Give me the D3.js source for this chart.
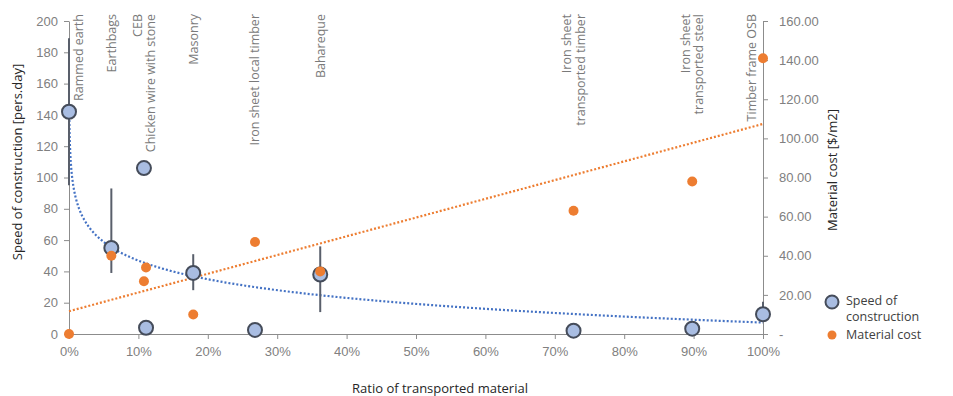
<!DOCTYPE html>
<html>
<head>
<meta charset="utf-8">
<script src="https://cdn.jsdelivr.net/npm/d3@7"></script>
<style>
body{margin:0;background:#fff;}
svg{font-family:"Open Sans",sans-serif;}
</style>
</head>
<body>
<div id="chart"></div>
<script>
var materials = ["Rammed earth","Earthbags","CEB","Chicken wire with stone","Masonry",
    "Iron sheet local timber","Bahareque","Iron sheet transported timber",
    "Iron sheet transported steel","Timber frame OSB"];
var ratio = [0, 0.061, 0.108, 0.111, 0.179, 0.268, 0.362, 0.727, 0.898, 1.0];
var speed = [142, 55, 106, 4, 39, 2.6, 38, 2.1, 3.4, 12.6];
var errPlus = [47, 38, 0, 0, 12, 0, 18, 0, 0, 8];
var errMinus = [47, 16, 0, 0, 11, 0, 24, 0, 0, 3];
var cost = [0, 40, 27, 34, 10, 47, 32, 63, 78, 141];
//data labels (CEB and chicken wire share one label)
var labelLines = [["Rammed earth"],["Earthbags"],["CEB","Chicken wire with stone"],[],["Masonry"],
    ["Iron sheet local timber"],["Bahareque"],["Iron sheet","transported timber"],
    ["Iron sheet","transported steel"],["Timber frame OSB"]];
var leftTicks = [0,20,40,60,80,100,120,140,160,180,200];
var rightTicks = [0,20,40,60,80,100,120,140,160];
var xTicks = [0,0.1,0.2,0.3,0.4,0.5,0.6,0.7,0.8,0.9,1];
//log trendline of speed: y = a + b*ln(x)
var speedTrend = {a: 7.3, b: -17.2, xStart: 0.0004};

var W = 953, H = 396;
var x = d3.scaleLinear().domain([0,1]).range([69,763]);
var yL = d3.scaleLinear().domain([0,200]).range([334,21]);
var yR = d3.scaleLinear().domain([0,160]).range([334,21]);

var blue = "#4472c4", orange = "#ed7d31", tickCol = "#808080", axisCol = "#8c8c8c";

var svg = d3.select("#chart").append("svg").attr("width", W).attr("height", H);

//axes
function styleAxis(g){
    g.select(".domain").attr("stroke", axisCol);
    g.selectAll(".tick line").attr("stroke", axisCol);
    g.selectAll(".tick text").attr("fill", tickCol).attr("font-size", "13px");
}
svg.append("g").attr("transform","translate(69,0)")
    .call(d3.axisLeft(yL).tickValues(leftTicks).tickSize(5).tickSizeOuter(0).tickPadding(6))
    .call(styleAxis);
svg.append("g").attr("transform","translate(763,0)")
    .call(d3.axisRight(yR).tickValues(rightTicks).tickSize(5).tickSizeOuter(0).tickPadding(11)
        .tickFormat(function(v){ return v === 0 ? "-" : v.toFixed(2); }))
    .call(styleAxis);
svg.append("g").attr("transform","translate(0,334)")
    .call(d3.axisBottom(x).tickValues(xTicks).tickSize(5).tickSizeOuter(0).tickPadding(8)
        .tickFormat(d3.format(".0%")))
    .call(styleAxis);

//axis titles
svg.append("text").attr("transform","translate(22,162) rotate(-90)")
    .attr("text-anchor","middle").attr("font-size","13px").attr("fill","#262626")
    .text("Speed of construction [pers.day]");
svg.append("text").attr("transform","translate(832,170) rotate(-90)")
    .attr("text-anchor","middle").attr("dy","0.35em").attr("font-size","13px").attr("fill","#262626")
    .text("Material cost [$/m2]");
svg.append("text").attr("x",440).attr("y",393)
    .attr("text-anchor","middle").attr("font-size","13px").attr("fill","#262626")
    .text("Ratio of transported material");

//trendlines
var n = ratio.length;
var mx = d3.mean(ratio), my = d3.mean(cost);
var sxy = d3.sum(ratio, function(v,i){ return (v-mx)*(cost[i]-my); });
var sxx = d3.sum(ratio, function(v){ return (v-mx)*(v-mx); });
var slope = sxy/sxx, icpt = my - slope*mx;

svg.append("line")
    .attr("x1", x(0)).attr("y1", yR(icpt))
    .attr("x2", x(1)).attr("y2", yR(icpt + slope))
    .attr("stroke", orange).attr("stroke-width", 2.2).attr("stroke-dasharray","2,2");

var trendPts = d3.range(0, 201).map(function(i){
    var t = speedTrend.xStart * Math.pow(1/speedTrend.xStart, i/200);
    return [t, speedTrend.a + speedTrend.b*Math.log(t)];
});
svg.append("path").datum(trendPts)
    .attr("d", d3.line().x(function(d){return x(d[0]);}).y(function(d){return yL(d[1]);}))
    .attr("fill","none").attr("stroke", blue).attr("stroke-width", 2.2).attr("stroke-dasharray","2,2");

//error bars
var idx = d3.range(n);
svg.selectAll(".err").data(idx.filter(function(i){ return errPlus[i] || errMinus[i]; }))
    .enter().append("line").attr("class","err")
    .attr("x1", function(i){return x(ratio[i]);}).attr("x2", function(i){return x(ratio[i]);})
    .attr("y1", function(i){return yL(speed[i]+errPlus[i]);})
    .attr("y2", function(i){return yL(speed[i]-errMinus[i]);})
    .attr("stroke","#595f6b").attr("stroke-width",2);

//speed points
svg.selectAll(".spd").data(idx).enter().append("circle").attr("class","spd")
    .attr("cx", function(i){return x(ratio[i]);})
    .attr("cy", function(i){return yL(speed[i]);})
    .attr("r", 7).attr("fill","#a9bde2").attr("stroke","#454c5a").attr("stroke-width",2);

//cost points
svg.selectAll(".cst").data(idx).enter().append("circle").attr("class","cst")
    .attr("cx", function(i){return x(ratio[i]);})
    .attr("cy", function(i){return yR(cost[i]);})
    .attr("r", 5).attr("fill", orange);

//data labels
var lab = svg.selectAll(".lab").data(idx.filter(function(i){ return labelLines[i].length; }))
    .enter().append("text").attr("class","lab")
    .attr("transform", function(i){
        var lx = Math.max(79, Math.min(752, x(ratio[i])));
        return "translate(" + lx + ",14) rotate(-90)";
    })
    .attr("text-anchor","end").attr("font-size","12.5px").attr("fill","#7a7a7a");
lab.each(function(i){
    var lines = labelLines[i];
    var t = d3.select(this);
    lines.forEach(function(s, k){
        t.append("tspan").attr("x",0)
            .attr("dy", k === 0 ? (0.35 - (lines.length-1)*0.54) + "em" : "1.08em")
            .text(s);
    });
});

//legend
var lg = svg.append("g").attr("font-size","12.5px").attr("fill","#404040");
lg.append("circle").attr("cx",832).attr("cy",302).attr("r",6.5)
    .attr("fill","#a9bde2").attr("stroke","#454c5a").attr("stroke-width",2);
lg.append("text").attr("x",846).attr("y",301).attr("dy","0.35em").text("Speed of");
lg.append("text").attr("x",846).attr("y",317).attr("dy","0.35em").text("construction");
lg.append("circle").attr("cx",832).attr("cy",335).attr("r",4.5).attr("fill",orange);
lg.append("text").attr("x",846).attr("y",335).attr("dy","0.35em").text("Material cost");
</script>
</body>
</html>
